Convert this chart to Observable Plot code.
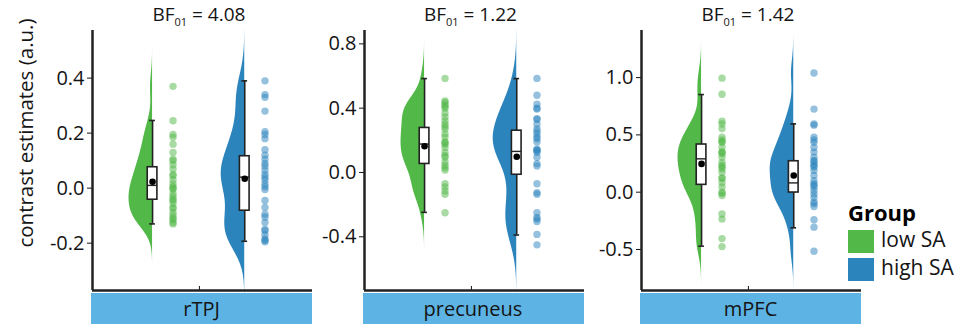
<!DOCTYPE html>
<html>
<head>
<meta charset="utf-8">
<script src="https://cdn.jsdelivr.net/npm/d3@7"></script>
<script src="https://cdn.jsdelivr.net/npm/@observablehq/plot@0.6"></script>
<style>
  body { margin: 0; background: #fff; }
  #root { position: relative; width: 972px; height: 324px; overflow: hidden; font-family: "Open Sans", sans-serif; color: #141414; }
  .panel { position: absolute; top: 0; }
  .strip { position: absolute; top: 293px; height: 31px; background: #5db3e3; display: flex; align-items: center; justify-content: center; font-size: 20px; line-height: 1; }
  .bf { position: absolute; top: 2px; font-size: 19px; transform: translateX(-50%); white-space: nowrap; line-height: 1.3; }
  .bf sub { font-size: 11px; vertical-align: -5px; line-height: 0; }
  .ylab { position: absolute; left: 25px; top: 133px; transform: translate(-50%, -50%) rotate(-90deg); font-size: 20.5px; white-space: nowrap; line-height: 1; }
  .leg-title { position: absolute; left: 848px; top: 199px; font-size: 22px; font-weight: 700; line-height: 1.2; color: #000; }
  .leg-key { position: absolute; left: 848px; width: 26px; height: 23px; }
  .leg-text { position: absolute; left: 881px; font-size: 21px; line-height: 1.2; }
</style>
</head>
<body>
<div id="root"></div>
<script>
// ---- data ----
const rois = ["rTPJ", "precuneus", "mPFC"];
const bfValues = ["4.08", "1.22", "1.42"];
const groups = ["low SA", "high SA"];
const groupColors = ["#52b848", "#2c84bd"];

const rtpjLow = [0.37, 0.245, 0.195, 0.185, 0.16, 0.13, 0.105, 0.10, 0.085, 0.07, 0.05, 0.045, 0.03, 0.015, 0.005, 0.0, -0.005, -0.02, -0.03, -0.04, -0.045, -0.055, -0.07, -0.075, -0.09, -0.10, -0.11, -0.115, -0.125, -0.13];
const rtpjHigh = [0.39, 0.34, 0.33, 0.28, 0.205, 0.195, 0.18, 0.14, 0.12, 0.105, 0.09, 0.08, 0.065, 0.05, 0.04, 0.03, 0.015, 0.005, -0.005, -0.045, -0.07, -0.095, -0.105, -0.125, -0.15, -0.155, -0.17, -0.185, -0.19, -0.195];
const precLow = [0.585, 0.445, 0.435, 0.42, 0.41, 0.40, 0.37, 0.345, 0.32, 0.30, 0.285, 0.27, 0.24, 0.22, 0.19, 0.185, 0.175, 0.155, 0.125, 0.105, 0.095, 0.065, 0.045, 0.03, 0.015, -0.07, -0.09, -0.115, -0.135, -0.25];
const precHigh = [0.585, 0.48, 0.425, 0.40, 0.395, 0.335, 0.33, 0.30, 0.27, 0.255, 0.24, 0.22, 0.21, 0.19, 0.145, 0.14, 0.135, 0.125, 0.095, 0.055, 0.04, -0.07, -0.125, -0.135, -0.25, -0.28, -0.29, -0.305, -0.385, -0.45];
const mpfcLow = [0.995, 0.855, 0.62, 0.595, 0.555, 0.48, 0.455, 0.44, 0.435, 0.39, 0.35, 0.35, 0.335, 0.305, 0.26, 0.235, 0.22, 0.205, 0.175, 0.125, 0.12, 0.085, 0.045, 0.0, -0.01, -0.03, -0.19, -0.235, -0.405, -0.475];
const mpfcHigh = [1.04, 0.725, 0.595, 0.585, 0.48, 0.455, 0.435, 0.39, 0.35, 0.305, 0.275, 0.27, 0.245, 0.23, 0.22, 0.19, 0.145, 0.10, 0.075, 0.06, 0.045, 0.015, -0.015, -0.045, -0.085, -0.10, -0.125, -0.24, -0.305, -0.515];

// box-plot summaries per ROI: [low SA, high SA]
const boxQ1 = [[-0.042, -0.082], [0.053, -0.014], [0.064, -0.003]];
const boxMedian = [[0.010, 0.040], [0.177, 0.131], [0.291, 0.081]];
const boxQ3 = [[0.076, 0.116], [0.277, 0.260], [0.416, 0.270]];
const whiskerLow = [[-0.130, -0.193], [-0.248, -0.389], [-0.471, -0.311]];
const whiskerHigh = [[0.246, 0.390], [0.584, 0.584], [0.852, 0.596]];
const groupMeans = [[0.023, 0.034], [0.163, 0.098], [0.247, 0.145]];

const yDomains = [[-0.372, 0.573], [-0.734, 0.883], [-0.858, 1.411]];
const yTicks = [[-0.2, 0.0, 0.2, 0.4], [-0.4, 0.0, 0.4, 0.8], [-0.5, 0.0, 0.5, 1.0]];

// ---- layout ----
const values = [[rtpjLow, rtpjHigh], [precLow, precHigh], [mpfcLow, mpfcHigh]];
const axisLeft = [92, 363.5, 641];
const PW = 220, ML = 62, MR = 4, MT = 30, MB = 34, H = 324;
const boxPos = [0.273, 0.692];     // flat edge of half-violin / box centre (x units, 0..1)
const pointPos = [0.366, 0.784];
const centerPos = 0.486;
const violinW = 0.107, boxHalf = 0.022, capHalf = 0.013;
const bwAdjust = 0.85;
const ink = "#222";

function nrd0(v) {
  const s = v.slice().sort(d3.ascending);
  const iqr = d3.quantile(s, 0.75) - d3.quantile(s, 0.25);
  const lo = Math.min(d3.deviation(s), iqr / 1.34);
  return 0.9 * lo * Math.pow(s.length, -0.2);
}
function kde(v, bw) {
  const lo = d3.min(v) - 3 * bw, hi = d3.max(v) + 3 * bw, n = 256;
  const c = 1 / (bw * Math.sqrt(2 * Math.PI));
  return d3.range(n + 1).map(i => {
    const y = lo + (hi - lo) * i / n;
    return {y, d: c * d3.mean(v, x => Math.exp(-0.5 * ((y - x) / bw) ** 2))};
  });
}

const root = document.getElementById("root");

rois.forEach((roi, i) => {
  const marks = [];
  const idx = [0, 1];
  // half violins
  idx.forEach(j => {
    const v = values[i][j];
    const dens = kde(v, bwAdjust * nrd0(v));
    const maxd = d3.max(dens, d => d.d);
    marks.push(Plot.areaX(dens, {
      y: "y", x1: d => boxPos[j] - d.d / maxd * violinW, x2: boxPos[j],
      fill: groupColors[j], curve: "linear"
    }));
  });
  // raw points
  idx.forEach(j => {
    marks.push(Plot.dot(values[i][j], {
      x: () => pointPos[j], y: d => d, r: 3.7, fill: groupColors[j], fillOpacity: 0.5, stroke: "none"
    }));
  });
  // whiskers + caps
  marks.push(Plot.ruleX(idx, {x: j => boxPos[j], y1: j => whiskerLow[i][j], y2: j => whiskerHigh[i][j], stroke: ink, strokeWidth: 1.6}));
  marks.push(Plot.ruleY(idx, {y: j => whiskerLow[i][j], x1: j => boxPos[j] - capHalf, x2: j => boxPos[j] + capHalf, stroke: ink, strokeWidth: 1.6}));
  marks.push(Plot.ruleY(idx, {y: j => whiskerHigh[i][j], x1: j => boxPos[j] - capHalf, x2: j => boxPos[j] + capHalf, stroke: ink, strokeWidth: 1.6}));
  // boxes
  marks.push(Plot.rect(idx, {x1: j => boxPos[j] - boxHalf, x2: j => boxPos[j] + boxHalf, y1: j => boxQ1[i][j], y2: j => boxQ3[i][j], fill: "white", stroke: ink, strokeWidth: 1.6}));
  marks.push(Plot.ruleY(idx, {y: j => boxMedian[i][j], x1: j => boxPos[j] - boxHalf, x2: j => boxPos[j] + boxHalf, stroke: ink, strokeWidth: 1.4}));
  marks.push(Plot.dot(idx, {x: j => boxPos[j], y: j => groupMeans[i][j], r: 3.3, fill: "black"}));
  // axis lines
  marks.push(Plot.ruleX([0], {stroke: ink, strokeWidth: 2.5}));
  marks.push(Plot.ruleY([yDomains[i][0]], {stroke: ink, strokeWidth: 2.5}));

  const svg = Plot.plot({
    width: ML + PW + MR, height: H,
    marginLeft: ML, marginRight: MR, marginTop: MT, marginBottom: MB,
    style: {background: "transparent", fontSize: "20px", fontFamily: "Open Sans, sans-serif", color: "#141414", overflow: "visible"},
    x: {domain: [0, 1], range: [ML, ML + PW], ticks: [centerPos], tickFormat: () => "", tickSize: -4, label: null},
    y: {domain: yDomains[i], ticks: yTicks[i], tickFormat: d => d.toFixed(1), tickSize: 5, tickPadding: 3, label: null},
    marks
  });
  svg.classList.add("panel");
  svg.style.left = (axisLeft[i] - ML) + "px";
  root.appendChild(svg);

  const strip = document.createElement("div");
  strip.className = "strip";
  strip.style.left = (axisLeft[i] - 1) + "px";
  strip.style.width = (PW + 1) + "px";
  strip.textContent = roi;
  root.appendChild(strip);

  const bf = document.createElement("div");
  bf.className = "bf";
  bf.style.left = (axisLeft[i] + centerPos * PW) + "px";
  bf.innerHTML = "BF<sub>01</sub> = " + bfValues[i];
  root.appendChild(bf);
});

const ylab = document.createElement("div");
ylab.className = "ylab";
ylab.textContent = "contrast estimates (a.u.)";
root.appendChild(ylab);

const lt = document.createElement("div");
lt.className = "leg-title";
lt.textContent = "Group";
root.appendChild(lt);
groups.forEach((g, j) => {
  const key = document.createElement("div");
  key.className = "leg-key";
  key.style.top = (230 + j * 28) + "px";
  key.style.background = groupColors[j];
  root.appendChild(key);
  const t = document.createElement("div");
  t.className = "leg-text";
  t.style.top = (227 + j * 28) + "px";
  t.textContent = g;
  root.appendChild(t);
});
</script>
</body>
</html>
